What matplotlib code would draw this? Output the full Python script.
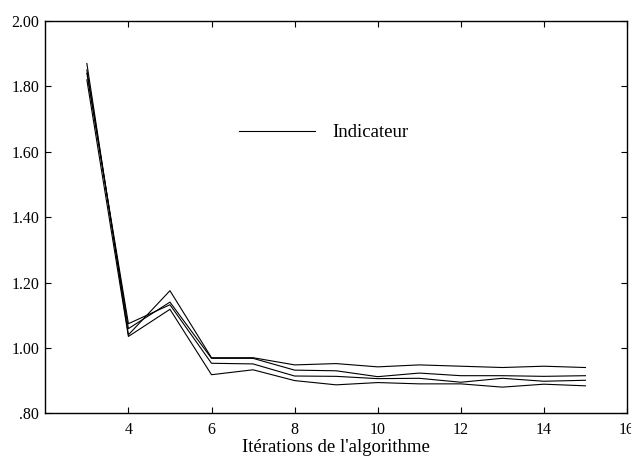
import numpy as np
import matplotlib
matplotlib.use('Agg')
import matplotlib.pyplot as plt

plt.rcParams['font.family'] = ['Liberation Serif', 'DejaVu Serif']

# iterations and four runs of the indicator
iterations = [3, 4, 5, 6, 7, 8, 9, 10, 11, 12, 13, 14, 15]
run_a = [1.87, 1.04, 1.175, 0.970, 0.970, 0.948, 0.952, 0.942, 0.948, 0.944, 0.940, 0.944, 0.940]
run_b = [1.85, 1.059, 1.140, 0.968, 0.968, 0.932, 0.930, 0.912, 0.923, 0.915, 0.915, 0.913, 0.915]
run_c = [1.84, 1.074, 1.132, 0.953, 0.951, 0.914, 0.913, 0.906, 0.907, 0.895, 0.907, 0.898, 0.901]
run_d = [1.82, 1.035, 1.118, 0.918, 0.933, 0.900, 0.887, 0.894, 0.890, 0.890, 0.880, 0.889, 0.884]

y_ticks = [0.8, 1.0, 1.2, 1.4, 1.6, 1.8, 2.0]
y_tick_labels = ['.80', '1.00', '1.20', '1.40', '1.60', '1.80', '2.00']
x_ticks = [4, 6, 8, 10, 12, 14, 16]

fig = plt.figure(figsize=(6.31, 4.61), dpi=100)
ax = fig.add_axes([0.0718, 0.1035, 0.9219, 0.851])

ax.plot(iterations, run_a, color='black', linewidth=0.8, label='Indicateur')
for run in (run_b, run_c, run_d):
    ax.plot(iterations, run, color='black', linewidth=0.8)

ax.set_xlim(2, 16)
ax.set_ylim(0.8, 2.0)
ax.set_xticks(x_ticks)
ax.set_yticks(y_ticks)
ax.set_yticklabels(y_tick_labels)
ax.tick_params(direction='in', length=4, width=0.8, top=True, right=True,
               labelsize=11.5, colors='black')
ax.tick_params(axis='x', pad=6)
ax.tick_params(axis='y', pad=4.5)
for s in ax.spines.values():
    s.set_linewidth(1.0)

ax.set_xlabel("Itérations de l'algorithme", fontsize=13.5, labelpad=1)

ax.legend(loc='center', bbox_to_anchor=(0.479, 0.715), frameon=False,
          fontsize=13.5, handlelength=4.05, handletextpad=0.9)

fig.savefig('out.png', dpi=100)
